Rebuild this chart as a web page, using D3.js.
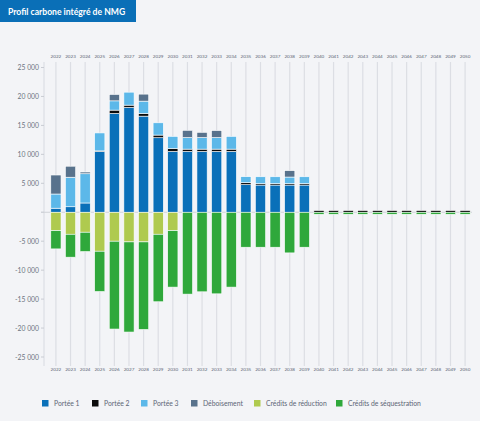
<!DOCTYPE html>
<html>
<head>
<meta charset="utf-8">
<script src="https://cdn.jsdelivr.net/npm/d3@7.9.0/dist/d3.min.js"></script>
<style>
  body { margin: 0; background: #f3f4f7; font-family: Lato, "Open Sans", sans-serif; }
  svg { display: block; }
</style>
</head>
<body>
<svg id="chart" width="480" height="421"></svg>
<script>
const years = d3.range(2022, 2051).map(String);

// tCO2e par année
const portee1 = [700, 950, 1600, 10500, 17060, 18100, 16600, 12870, 10500, 10500, 10500, 10500, 10500, 4760, 4700, 4700, 4700, 4700, 0, 0, 0, 0, 0, 0, 0, 0, 0, 0, 0];
const portee2 = [0, 0, 0, 100, 580, 400, 460, 460, 500, 400, 400, 400, 400, 340, 230, 230, 230, 230, 300, 300, 300, 300, 300, 300, 300, 300, 300, 300, 300];
const portee3 = [2450, 5100, 5050, 3100, 1600, 2240, 2130, 2120, 2100, 2000, 2000, 2000, 2200, 1040, 1200, 1200, 1150, 1200, 0, 0, 0, 0, 0, 0, 0, 0, 0, 0, 0];
const deboisement = [3280, 1900, 300, 0, 1100, 0, 1210, 0, 0, 1250, 900, 1200, 0, 0, 0, 0, 1100, 0, 0, 0, 0, 0, 0, 0, 0, 0, 0, 0, 0];
const creditsReduction = [-3170, -3800, -3450, -6730, -5000, -5120, -5120, -3800, -3170, 0, 0, 0, 0, 0, 0, 0, 0, 0, 0, 0, 0, 0, 0, 0, 0, 0, 0, 0, 0];
const creditsSequestration = [-3160, -3960, -3340, -6960, -15170, -15570, -15120, -11660, -9760, -14140, -13740, -14090, -12930, -6040, -6040, -6040, -7020, -6040, -350, -350, -350, -350, -350, -350, -350, -350, -350, -350, -350];

const yTicks = [25000, 20000, 15000, 10000, 5000, 0, -5000, -10000, -15000, -20000, -25000];

const series = [
  { key: 'Portée 1', values: portee1, color: '#0a70b9' },
  { key: 'Portée 2', values: portee2, color: '#0b0b0b' },
  { key: 'Portée 3', values: portee3, color: '#5cb8e9' },
  { key: 'Déboisement', values: deboisement, color: '#58728c' },
  { key: 'Crédits de réduction', values: creditsReduction, color: '#afca4f' },
  { key: 'Crédits de séquestration', values: creditsSequestration, color: '#2fa83b' }
];

const table = years.map((year, i) => {
  const row = { year };
  series.forEach(s => { row[s.key] = s.values[i]; });
  return row;
});

const svg = d3.select('#chart');

const x = d3.scaleBand()
  .domain(years)
  .range([50.8, 470.2])
  .paddingInner(0.3)
  .paddingOuter(0);

const y = d3.scaleLinear().domain([-25000, 25000]).range([357, 67.5]);

const plotTop = 62, plotBottom = 366;

// titre
svg.append('rect').attr('x', 0).attr('y', 0).attr('width', 136).attr('height', 22).attr('fill', '#0a6fb7');
svg.append('text').attr('x', 8).attr('y', 14.5)
  .attr('fill', '#fff').attr('font-size', 8.6).attr('font-weight', 700)
  .text('Profil carbone intégré de NMG');

// lignes verticales
svg.append('g').selectAll('line').data(years).join('line')
  .attr('x1', d => x(d) + x.bandwidth() / 2).attr('x2', d => x(d) + x.bandwidth() / 2)
  .attr('y1', plotTop).attr('y2', plotBottom)
  .attr('stroke', '#dcdee4').attr('stroke-width', 1.2);

// axe y
svg.append('line').attr('x1', 44).attr('x2', 44).attr('y1', plotTop).attr('y2', plotBottom)
  .attr('stroke', '#dcdee4').attr('stroke-width', 1.2);

const yAxis = svg.append('g');
yAxis.selectAll('line').data(yTicks).join('line')
  .attr('x1', 41).attr('x2', 44).attr('y1', d => y(d)).attr('y2', d => y(d))
  .attr('stroke', '#c9ccd3');
yAxis.selectAll('text').data(yTicks.filter(d => d !== 0)).join('text')
  .attr('x', 39).attr('y', d => y(d) + 2.5)
  .attr('text-anchor', 'end').attr('font-size', 6.8).attr('fill', '#6c7482')
  .text(d => d3.format(',')(d).replace(',', ' ').replace('−', '-'));

// ligne zéro
svg.append('line').attr('x1', 41).attr('x2', 472).attr('y1', y(0)).attr('y2', y(0))
  .attr('stroke', '#cfd2d8');

// étiquettes des années, haut et bas
[57.5, 371].forEach(ty => {
  svg.append('g').selectAll('text').data(years).join('text')
    .attr('x', d => x(d) + x.bandwidth() / 2).attr('y', ty)
    .attr('text-anchor', 'middle').attr('font-size', 4.6).attr('fill', '#5d6676')
    .text(d => d);
});

// barres empilées
const stacked = d3.stack()
  .keys(series.map(s => s.key))
  .offset(d3.stackOffsetDiverging)(table);

const colorOf = d3.scaleOrdinal().domain(series.map(s => s.key)).range(series.map(s => s.color));

svg.append('g').selectAll('g').data(stacked).join('g')
  .attr('fill', d => colorOf(d.key))
  .selectAll('rect').data(d => d.filter(v => v[1] - v[0] !== 0)).join('rect')
  .attr('x', d => x(d.data.year))
  .attr('width', x.bandwidth())
  .attr('y', d => y(Math.max(d[0], d[1])))
  .attr('height', d => Math.abs(y(d[0]) - y(d[1])))
  .attr('stroke', '#ffffff').attr('stroke-width', 0.6);

// légende
const legendX = [42, 92, 141, 191, 254, 336];
const legend = svg.append('g').selectAll('g').data(series).join('g')
  .attr('transform', (d, i) => `translate(${legendX[i]},400)`);
legend.append('rect').attr('width', 6.5).attr('height', 6.5).attr('fill', d => d.color);
legend.append('text').attr('x', 12).attr('y', 6).attr('font-size', 6.8).attr('fill', '#5d6676')
  .text(d => d.key);
</script>
</body>
</html>
